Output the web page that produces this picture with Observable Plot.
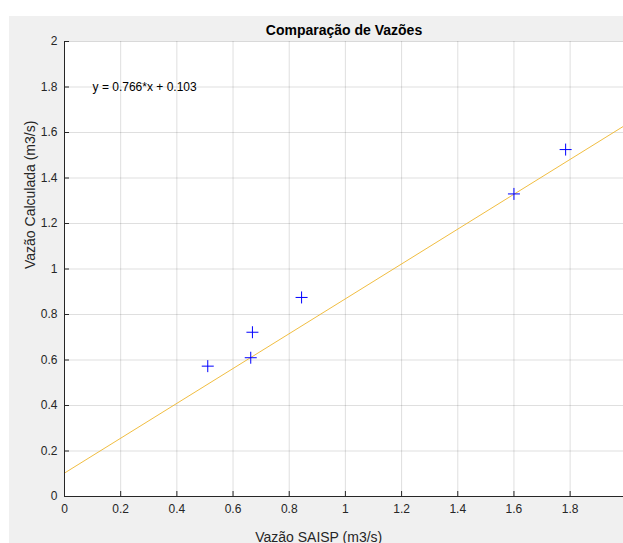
<!DOCTYPE html>
<html>
<head>
<meta charset="utf-8">
<script src="https://cdn.jsdelivr.net/npm/d3@7"></script>
<script src="https://cdn.jsdelivr.net/npm/@observablehq/plot@0.6"></script>
<style>
  html, body { margin: 0; padding: 0; background: #ffffff; width: 623px; height: 543px; overflow: hidden; }
  #fig { position: absolute; left: 9px; top: 16px; width: 614px; height: 527px; background: #f0f0f0; overflow: hidden; }
  #fig svg { background: transparent; }
</style>
</head>
<body>
<div id="fig"></div>
<script>
// Data
const saisp      = [0.51, 0.663, 0.669, 0.844, 1.600, 1.784];   // Vazão SAISP (m3/s)
const calculada  = [0.573, 0.610, 0.722, 0.875, 1.330, 1.525];  // Vazão Calculada (m3/s)
const fitSlope = [0.766];
const fitIntercept = [0.103];
const equationText = ["y = 0.766*x + 0.103"];
const equationPos = [{x: 0.1, y: 1.8}];
const xTicks = [0, 0.2, 0.4, 0.6, 0.8, 1, 1.2, 1.4, 1.6, 1.8];
const yTicks = [0, 0.2, 0.4, 0.6, 0.8, 1, 1.2, 1.4, 1.6, 1.8, 2];
const titleText = "Comparação de Vazões";
const xLabel = "Vazão SAISP (m3/s)";
const yLabel = "Vazão Calculada (m3/s)";

const xDomain = [0, 1.99];
const points = saisp.map((x, i) => ({x, y: calculada[i]}));
const fitLine = xDomain.map(x => ({x, y: fitSlope[0] * x + fitIntercept[0]}));

const plusSymbol = {
  draw(ctx, size) {
    const r = Math.sqrt(size / Math.PI);
    ctx.moveTo(-r, 0); ctx.lineTo(r, 0);
    ctx.moveTo(0, -r); ctx.lineTo(0, r);
  }
};

const axisColor = "#262626";
const font = "'Liberation Sans', Arial, Helvetica, sans-serif";
const fmt = d => String(d);

const chart = Plot.plot({
  width: 614,
  height: 527,
  marginLeft: 55,
  marginRight: 0,
  marginTop: 25,
  marginBottom: 47,
  style: {fontFamily: font, fontSize: "12px", color: axisColor, background: "transparent"},
  x: {domain: xDomain, label: null},
  y: {domain: [0, 2], label: null},
  marks: [
    Plot.frame({fill: "white", stroke: null}),
    Plot.gridX(xTicks, {stroke: axisColor, strokeOpacity: 0.15}),
    Plot.gridY(yTicks, {stroke: axisColor, strokeOpacity: 0.15}),
    Plot.line(fitLine, {x: "x", y: "y", stroke: "#EDB120", strokeOpacity: 0.85, strokeWidth: 1}),
    Plot.dot(points, {x: "x", y: "y", symbol: plusSymbol, r: 6, stroke: "#0000ff", fill: "none", strokeWidth: 1}),
    Plot.text(equationPos, {x: "x", y: "y", text: () => equationText[0], textAnchor: "start", fontSize: 12, fill: "#000"}),
    Plot.ruleX([0], {stroke: axisColor}),
    Plot.ruleY([0], {stroke: axisColor}),
    Plot.axisX(xTicks, {tickSize: -5, text: null, stroke: axisColor}),
    Plot.axisX(xTicks, {tickSize: 0, tickPadding: 8, tickFormat: fmt, fill: axisColor, fontSize: 12, label: null}),
    Plot.axisY(yTicks, {tickSize: -5, text: null, stroke: axisColor}),
    Plot.axisY(yTicks, {tickSize: 0, tickPadding: 7, tickFormat: fmt, fill: axisColor, fontSize: 12, label: null}),
    Plot.text([titleText], {frameAnchor: "top", dy: -16, fontWeight: "bold", fontSize: 14, fill: "#000"}),
    Plot.text([xLabel], {x: () => 0.905, frameAnchor: "bottom", dy: 45, fontSize: 14, fill: axisColor}),
    Plot.text([yLabel], {frameAnchor: "left", rotate: -90, dx: -34, fontSize: 14, fill: axisColor})
  ]
});
document.getElementById("fig").appendChild(chart);
</script>
</body>
</html>
